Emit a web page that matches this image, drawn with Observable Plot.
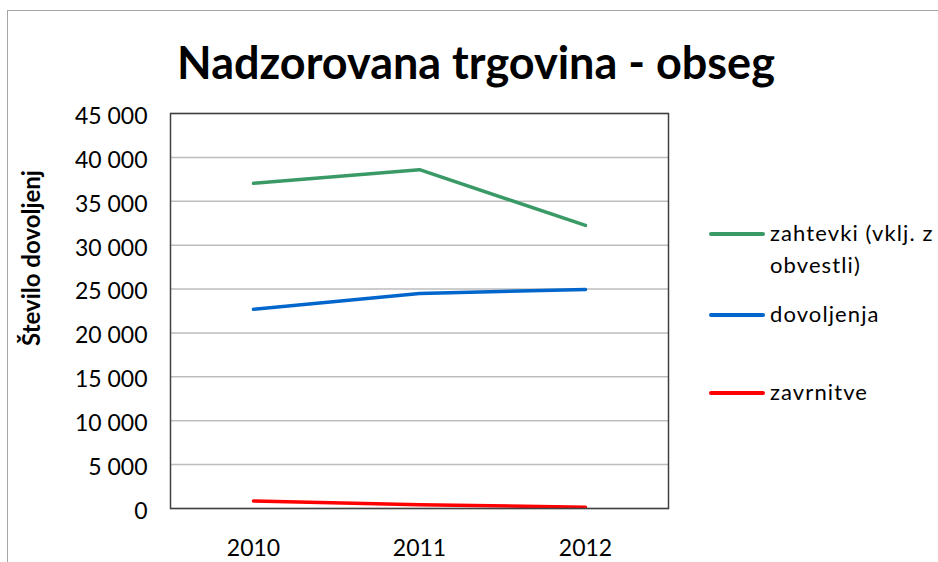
<!DOCTYPE html>
<html><head><meta charset="utf-8">
<script src="https://cdn.jsdelivr.net/npm/d3@7"></script>
<script src="https://cdn.jsdelivr.net/npm/@observablehq/plot@0.6"></script>
<style>
body{margin:0;background:#fff;font-family:Lato,"Open Sans",sans-serif;}
#wrap{position:relative;width:938px;height:562px;overflow:hidden;background:#fff;}
#border{position:absolute;left:7px;top:10px;width:960px;height:600px;border:1.5px solid #a6a6a6;box-sizing:border-box;}
#title{position:absolute;left:0;width:952px;top:35px;text-align:center;font-weight:bold;font-size:45px;line-height:54px;color:#000;}
#ylabel{position:absolute;left:30px;top:258px;transform:translate(-50%,-50%) rotate(-90deg);font-weight:bold;font-size:24px;white-space:nowrap;color:#000;}
#chart{position:absolute;left:0;top:0;}
.leg{position:absolute;left:709px;font-size:22px;color:#000;letter-spacing:1.1px;line-height:32px;}
.leg .sw{position:absolute;left:0;width:56px;height:3.5px;border-radius:2px;}
.leg .tx{position:absolute;left:61px;white-space:nowrap;}
</style>
</head><body>
<div id="wrap">
  <div id="border"></div>
  <div id="chart"></div>
  <div id="title">Nadzorovana trgovina - obseg</div>
  <div id="ylabel">Število dovoljenj</div>
</div>
<script>
const years = ["2010", "2011", "2012"];
const seriesNames = ["zahtevki (vklj. z obvestli)", "dovoljenja", "zavrnitve"];
const legendLines = [["zahtevki (vklj. z", "obvestli)"], ["dovoljenja"], ["zavrnitve"]];
const zahtevki = [37050, 38600, 32250];
const dovoljenja = [22700, 24500, 24950];
const zavrnitve = [850, 420, 150];
const seriesColors = ["#3a9a66", "#0066cc", "#ff0000"];
const yTicks = [0, 5000, 10000, 15000, 20000, 25000, 30000, 35000, 40000, 45000];

const seriesValues = [zahtevki, dovoljenja, zavrnitve];
const data = [];
seriesNames.forEach((s, i) => years.forEach((y, j) => data.push({series: s, year: y, value: seriesValues[i][j]})));

const fmt = d => d3.format(",")(d).replace(/,/g, " ");

const plot = Plot.plot({
  width: 938,
  height: 562,
  marginLeft: 170,
  marginRight: 270,
  marginTop: 113,
  marginBottom: 54,
  style: {fontFamily: "Lato, 'Open Sans', sans-serif", background: "transparent", color: "#000"},
  x: {type: "point", domain: years, padding: 0.5, label: null},
  y: {domain: [0, 45000], label: null},
  color: {domain: seriesNames, range: seriesColors},
  marks: [
    Plot.gridY(yTicks, {stroke: "#bdbdbd", strokeOpacity: 1, strokeWidth: 1.5}),
    Plot.axisY(yTicks, {tickSize: 0, tickPadding: 23, tickFormat: fmt, fontSize: 23, dy: 3, label: null}),
    Plot.axisX(years, {tickSize: 0, tickPadding: 31, fontSize: 23, label: null}),
    Plot.line(data, {x: "year", y: "value", z: "series", stroke: "series", strokeWidth: 3.5, strokeLinecap: "round"}),
    Plot.frame({stroke: "#404040", strokeWidth: 1.5})
  ]
});
document.getElementById("chart").appendChild(plot);

// legend
const legTops = [234, 315, 393];
const wrap = document.getElementById("wrap");
seriesNames.forEach((s, i) => {
  const d = document.createElement("div");
  d.className = "leg";
  d.style.top = legTops[i] + "px";
  const sw = document.createElement("div");
  sw.className = "sw";
  sw.style.background = seriesColors[i];
  sw.style.top = "-1.75px";
  d.appendChild(sw);
  const tx = document.createElement("div");
  tx.className = "tx";
  tx.style.top = "-17px";
  tx.innerHTML = legendLines[i].join("<br>");
  d.appendChild(tx);
  wrap.appendChild(d);
});
</script>
</body></html>
